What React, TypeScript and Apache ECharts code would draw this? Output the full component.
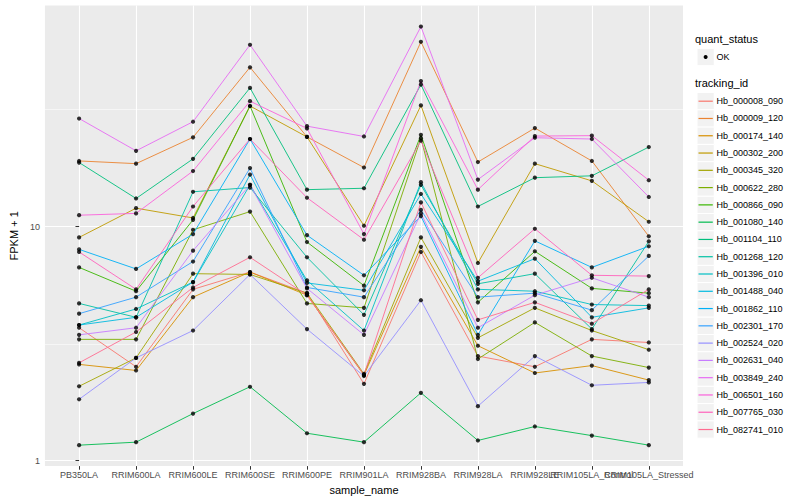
import React, { useEffect, useRef } from "react";
import * as echarts from "echarts";

const categories = [
  "PB350LA", "RRIM600LA", "RRIM600LE", "RRIM600SE", "RRIM600PE", "RRIM901LA",
  "RRIM928BA", "RRIM928LA", "RRIM928LE", "RRIM105LA_Control", "RRIM105LA_Stressed",
];

const trackingIds = [
  "Hb_000008_090", "Hb_000009_120", "Hb_000174_140", "Hb_000302_200", "Hb_000345_320",
  "Hb_000622_280", "Hb_000866_090", "Hb_001080_140", "Hb_001104_110", "Hb_001268_120",
  "Hb_001396_010", "Hb_001488_040", "Hb_001862_110", "Hb_002301_170", "Hb_002524_020",
  "Hb_002631_040", "Hb_003849_240", "Hb_006501_160", "Hb_007765_030", "Hb_082741_010",
];

const colors = [
  "#F8766D", "#EA8331", "#D89000", "#C09B00", "#A3A500", "#7CAE00", "#39B600", "#00BB4E",
  "#00BF7D", "#00C1A3", "#00BFC4", "#00BAE0", "#00B0F6", "#35A2FF", "#9590FF", "#C77CFF",
  "#E76BF3", "#FA62DB", "#FF62BC", "#FF6C91",
];

const Hb_000008_090 = [3.7, 2.52, 5.4, 6.4, 5.2, 2.13, 7.8, 2.8, 2.52, 3.3, 3.2];
const Hb_000009_120 = [19.1, 18.6, 24.1, 48.0, 24.2, 17.9, 61.7, 18.9, 26.4, 19.1, 9.1];
const Hb_000174_140 = [2.58, 2.43, 5.0, 6.4, 5.1, 2.32, 8.2, 3.1, 2.37, 2.55, 2.21];
const Hb_000302_200 = [9.0, 12.0, 10.9, 32.8, 24.2, 10.1, 33.0, 7.0, 18.6, 15.7, 10.5];
const Hb_000345_320 = [2.08, 2.75, 6.3, 6.25, 5.2, 2.35, 9.0, 3.35, 4.5, 3.6, 2.98];
const Hb_000622_280 = [3.3, 3.3, 9.7, 11.6, 4.7, 4.5, 23.9, 2.72, 3.9, 2.8, 2.5];
const Hb_000866_090 = [6.7, 5.3, 10.7, 32.8, 8.6, 5.6, 24.7, 4.75, 7.85, 5.45, 5.2];
const Hb_001080_140 = [1.165, 1.2, 1.59, 2.07, 1.31, 1.2, 1.95, 1.22, 1.4, 1.28, 1.165];
const Hb_001104_110 = [18.8, 13.2, 19.5, 39.2, 14.4, 14.6, 40.5, 12.2, 16.2, 16.5, 21.9];
const Hb_001268_120 = [4.7, 4.1, 14.1, 14.7, 7.4, 4.2, 15.1, 5.7, 6.3, 3.65, 8.66];
const Hb_001396_010 = [3.8, 4.45, 5.8, 15.1, 5.9, 3.6, 15.5, 5.4, 5.3, 4.65, 4.6];
const Hb_001488_040 = [3.8, 4.1, 5.8, 16.7, 5.75, 5.35, 13.8, 5.85, 7.3, 4.1, 4.5];
const Hb_001862_110 = [8.0, 6.6, 9.3, 23.7, 9.2, 6.2, 11.1, 3.45, 8.7, 6.7, 8.25];
const Hb_002301_170 = [4.25, 5.0, 7.1, 17.8, 5.5, 5.0, 11.8, 5.0, 5.2, 4.4, 7.5];
const Hb_002524_020 = [1.83, 2.75, 3.6, 6.25, 3.65, 2.3, 4.85, 1.71, 2.8, 2.1, 2.16];
const Hb_002631_040 = [3.45, 3.7, 7.9, 15.1, 5.45, 3.45, 11.4, 3.7, 5.1, 6.05, 5.0];
const Hb_003849_240 = [29.0, 21.1, 28.1, 59.9, 26.9, 24.3, 71.7, 15.9, 24.0, 23.7, 13.4];
const Hb_006501_160 = [11.2, 11.4, 17.3, 34.4, 26.3, 9.3, 41.9, 14.4, 24.4, 24.5, 15.8];
const Hb_007765_030 = [7.8, 5.4, 12.2, 23.7, 13.3, 8.8, 23.3, 6.05, 9.8, 6.2, 6.15];
const Hb_082741_010 = [2.62, 3.55, 5.5, 7.4, 5.1, 2.33, 12.7, 4.0, 4.75, 3.85, 5.4];

const seriesValues = [
  Hb_000008_090, Hb_000009_120, Hb_000174_140, Hb_000302_200, Hb_000345_320,
  Hb_000622_280, Hb_000866_090, Hb_001080_140, Hb_001104_110, Hb_001268_120,
  Hb_001396_010, Hb_001488_040, Hb_001862_110, Hb_002301_170, Hb_002524_020,
  Hb_002631_040, Hb_003849_240, Hb_006501_160, Hb_007765_030, Hb_082741_010,
];

const yTicks = [1, 10];
const yMinor = [Math.sqrt(10), Math.sqrt(1000)];
const quantStatus = ["OK"];

const FONT = "'Liberation Sans', Arial, Helvetica, sans-serif";

export default function App() {
  const ref = useRef<HTMLDivElement>(null);

  useEffect(() => {
    if (!ref.current) return;
    const chart = echarts.init(ref.current, null, { renderer: "svg" });

    const all = seriesValues.flat();
    const lmin = Math.log10(Math.min(...all));
    const lmax = Math.log10(Math.max(...all));
    const pad = (lmax - lmin) * 0.05;
    const yMin = Math.pow(10, lmin - pad);
    const yMax = Math.pow(10, lmax + pad);
    const xIdx = categories.map((_, i) => i);
    const evenIdx = xIdx.filter((i) => i % 2 === 0);
    const oddIdx = xIdx.filter((i) => i % 2 === 1);

    const lineSeries = seriesValues.map((vals, s) => ({
      type: "line",
      name: trackingIds[s],
      data: vals.map((v, i) => [i, v]),
      showSymbol: false,
      silent: true,
      z: 2,
      lineStyle: { color: colors[s], width: 0.9 },
    }));

    const pointData: number[][] = [];
    seriesValues.forEach((vals) => vals.forEach((v, i) => pointData.push([i, v])));

    const legendX = 697;
    const keySize = 17.28;
    const firstY = 101.2;
    const graphics: any[] = [
      { type: "text", left: 695, top: 33, style: { text: "quant_status", font: `11px ${FONT}`, fill: "#000" } },
      { type: "rect", shape: { x: legendX, y: 57 - keySize / 2, width: keySize, height: keySize }, style: { fill: "#F2F2F2", stroke: "#fff", lineWidth: 1 } },
      { type: "circle", shape: { cx: legendX + keySize / 2, cy: 57, r: 2 }, style: { fill: "#000" } },
      { type: "text", x: 716.5, y: 57, style: { text: quantStatus[0], font: `9px ${FONT}`, fill: "#000", verticalAlign: "middle" } },
      { type: "text", left: 695, top: 77, style: { text: "tracking_id", font: `11px ${FONT}`, fill: "#000" } },
    ];
    trackingIds.forEach((id, i) => {
      const cy = firstY + i * keySize;
      graphics.push(
        { type: "rect", shape: { x: legendX, y: cy - keySize / 2, width: keySize, height: keySize }, style: { fill: "#F2F2F2", stroke: "#fff", lineWidth: 1 } },
        { type: "line", shape: { x1: legendX + 1.5, y1: cy, x2: legendX + keySize - 1.5, y2: cy }, style: { stroke: colors[i], lineWidth: 1.2 } },
        { type: "text", x: 716.5, y: cy, style: { text: id, font: `9px ${FONT}`, fill: "#000", verticalAlign: "middle" } }
      );
    });

    const labelStyle = {
      formatter: (v: number) => categories[Math.round(v)] ?? "",
      color: "#4D4D4D", fontSize: 9, margin: 4, fontFamily: FONT,
      hideOverlap: false,
      showMinLabel: true,
      showMaxLabel: true,
    };

    chart.setOption({
      animation: false,
      backgroundColor: "#ffffff",
      textStyle: { fontFamily: FONT },
      grid: {
        left: 35, right: 117, top: 5.6, bottom: 31.2,
        show: true, backgroundColor: "#EBEBEB", borderWidth: 0,
      },
      xAxis: [
        {
          type: "value",
          position: "bottom",
          min: -0.6,
          max: 10.6,
          name: "sample_name",
          nameLocation: "middle",
          nameGap: 13,
          nameTextStyle: { fontSize: 11, color: "#000", fontFamily: FONT },
          axisLine: { show: false },
          axisTick: { show: true, length: 3.6, lineStyle: { color: "#333333", width: 1 }, customValues: xIdx },
          axisLabel: { ...labelStyle, customValues: evenIdx },
          splitLine: { show: true, lineStyle: { color: "#ffffff", width: 1.1 } },
        },
        {
          type: "value",
          position: "bottom",
          min: -0.6,
          max: 10.6,
          axisLine: { show: false },
          axisTick: { show: false, customValues: oddIdx },
          axisLabel: { ...labelStyle, customValues: oddIdx },
          splitLine: { show: false },
        },
      ],
      yAxis: {
        type: "log",
        logBase: 10,
        min: yMin,
        max: yMax,
        name: "FPKM + 1",
        nameLocation: "middle",
        nameGap: 18,
        nameRotate: 90,
        nameTextStyle: { fontSize: 11, color: "#000", fontFamily: FONT },
        axisLine: { show: false },
        axisTick: { show: true, length: 3.6, lineStyle: { color: "#333333", width: 1 }, customValues: yTicks },
        axisLabel: { customValues: yTicks, color: "#4D4D4D", fontSize: 9, margin: 5, fontFamily: FONT },
        splitLine: { show: true, lineStyle: { color: "#ffffff", width: 1.1 } },
      },
      graphic: graphics,
      series: [
        {
          type: "line",
          data: [],
          silent: true,
          z: 1,
          markLine: {
            silent: true,
            z: 1,
            symbol: ["none", "none"],
            label: { show: false },
            lineStyle: { color: "#ffffff", width: 0.55, type: "solid" },
            data: yMinor.map((v) => ({ yAxis: v })),
          },
        },
        ...lineSeries,
        {
          type: "scatter",
          data: pointData,
          symbol: "circle",
          symbolSize: 4.2,
          silent: true,
          z: 3,
          itemStyle: { color: "#000000" },
        },
      ],
    });

    return () => chart.dispose();
  }, []);

  return (
    <div
      ref={ref}
      style={{ position: "fixed", left: 0, top: 0, width: 800, height: 500 }}
    />
  );
}
